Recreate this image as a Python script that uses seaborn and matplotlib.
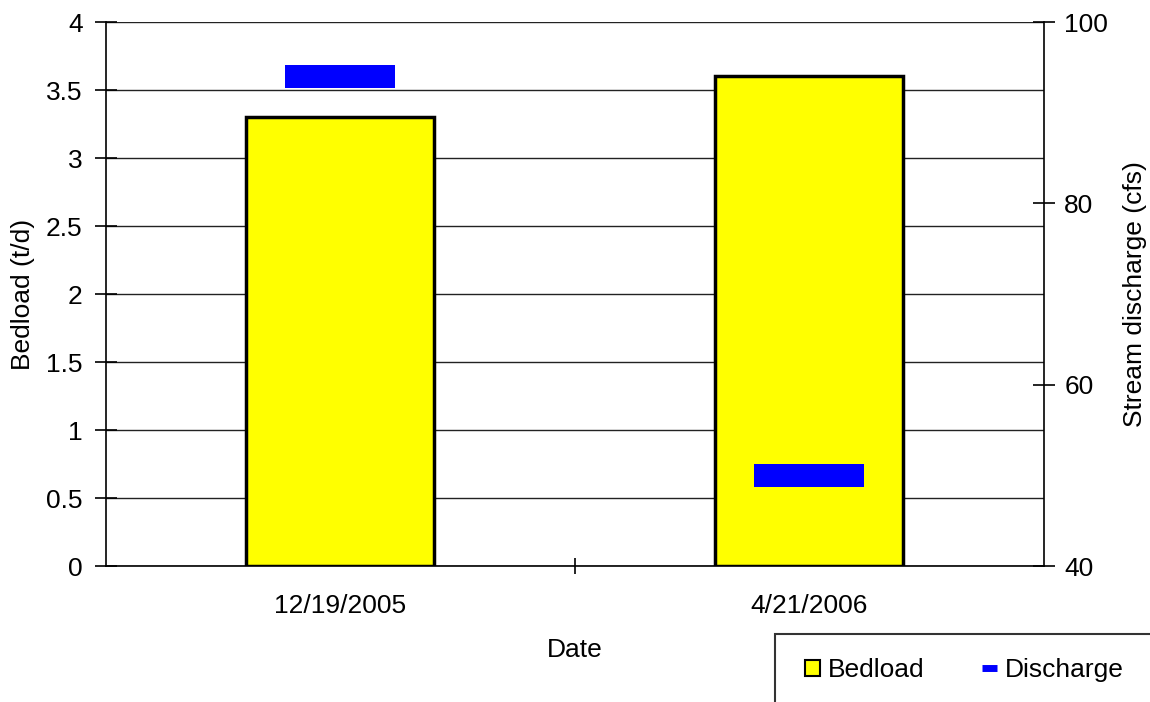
import numpy as np
import pandas as pd
import matplotlib
matplotlib.use("Agg")
import matplotlib.pyplot as plt
from matplotlib.path import Path
from matplotlib.patches import Rectangle, Patch
from matplotlib.lines import Line2D
import seaborn as sns

dates = ["12/19/2005", "4/21/2006"]
bedload = [3.3, 3.6]
discharge = [94.0, 50.0]

sns.set_theme(style="white")
plt.rcParams['font.family'] = ['Liberation Sans', 'DejaVu Sans']
plt.rcParams['text.color'] = 'black'
plt.rcParams['axes.labelcolor'] = 'black'
FS = 19

fig = plt.figure(figsize=(11.5, 7.02), dpi=100)
ax = fig.add_axes([105.7/1150, 1 - 566/702, (1043.5 - 105.7)/1150, (566 - 22)/702])

df = pd.DataFrame({"Date": dates, "Bedload": bedload, "Discharge": discharge})
sns.barplot(data=df, x="Date", y="Bedload", ax=ax, color="#ffff00", saturation=1,
            width=0.4, edgecolor="black", linewidth=2.5, zorder=3)

ax.set_xlim(-0.5, 1.5)
ax.set_ylim(0, 4)
ax.set_yticks(np.arange(0, 4.01, 0.5))
ax.set_yticklabels(["0", "0.5", "1", "1.5", "2", "2.5", "3", "3.5", "4"])
ax.yaxis.grid(True, color="#222222", linewidth=1.0, zorder=0)
ax.set_axisbelow(True)
for s in ["top", "right"]:
    ax.spines[s].set_visible(False)
for s in ["left", "bottom"]:
    ax.spines[s].set_color("black")
    ax.spines[s].set_linewidth(1.2)
ax.tick_params(axis="y", direction="inout", length=16, width=1.2, pad=8.6,
               labelsize=FS, colors="black", left=True)
ax.tick_params(axis="x", which="major", length=0, pad=20.5, labelsize=FS, colors="black")
ax.set_xticks([0.5], minor=True)
ax.tick_params(axis="x", which="minor", direction="inout", length=12, width=1.2,
               bottom=True, color="black")
ax.set_ylabel("Bedload (t/d)", fontsize=FS, labelpad=8, color="black")
ax.set_xlabel("Date", fontsize=FS, labelpad=14, color="black")

ax2 = ax.twinx()
w, h = 1.0, 23/110
rect = Path([(-w, -h), (w, -h), (w, h), (-w, h), (-w, -h)],
            [Path.MOVETO, Path.LINETO, Path.LINETO, Path.LINETO, Path.CLOSEPOLY])
ms = 110 * 0.72
sns.scatterplot(x=np.arange(len(dates)), y=discharge, ax=ax2, marker=rect,
                s=ms**2, color="#0000ff", linewidth=0, zorder=4)
ax2.set_xlim(-0.5, 1.5)
ax2.set_ylim(40, 100)
ax2.set_yticks([40, 60, 80, 100])
for s in ["top", "left", "bottom"]:
    ax2.spines[s].set_visible(False)
ax2.spines["right"].set_color("black")
ax2.spines["right"].set_linewidth(1.2)
ax2.tick_params(axis="y", direction="inout", length=16, width=1.2, pad=7,
                labelsize=FS, colors="black", right=True)
ax2.set_ylabel("Stream discharge (cfs)", fontsize=FS, labelpad=11, color="black")
ax2.grid(False)

# legend box (extends beyond figure)
fig.patches.append(Rectangle((775/1150, -0.2), 0.5, (702 - 634)/702 + 0.2,
                             transform=fig.transFigure, fill=False,
                             edgecolor="#333333", linewidth=1.5))
handles = [Patch(facecolor="#ffff00", edgecolor="black", linewidth=1.5),
           Line2D([0], [0], color="#0000ff", linewidth=5, solid_capstyle="butt")]
fig.legend(handles, ["Bedload", "Discharge"], loc="center left",
           bbox_to_anchor=(805/1150, 1 - 670/702), ncol=2, frameon=False,
           fontsize=FS, handlelength=0.55, handleheight=0.55, handletextpad=0.3,
           columnspacing=2.2, borderpad=0, borderaxespad=0)

fig.savefig("out.png", dpi=100)
